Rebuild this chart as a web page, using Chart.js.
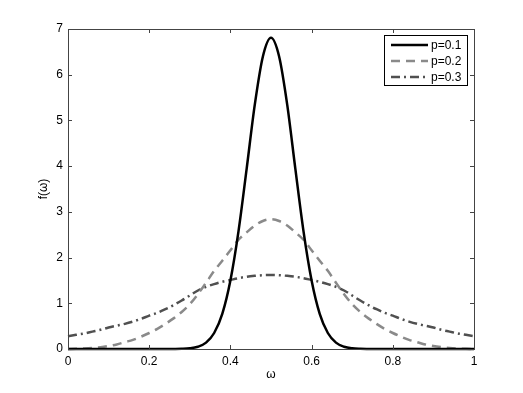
<!DOCTYPE html>
<html>
<head>
<meta charset="utf-8">
<script src="https://cdn.jsdelivr.net/npm/chart.js@4.4.1/dist/chart.umd.min.js"></script>
<style>
  html, body { margin: 0; padding: 0; background: #fff; }
  #wrap { width: 523px; height: 393px; }
</style>
</head>
<body>
<div id="wrap"><canvas id="myChart" width="523" height="393"></canvas></div>
<script>
const omega = [0, 0.02, 0.04, 0.06, 0.08, 0.1, 0.12, 0.14, 0.16, 0.18,
  0.2, 0.22, 0.24, 0.26, 0.28, 0.3, 0.32, 0.34, 0.36, 0.38,
  0.4, 0.42, 0.44, 0.46, 0.48, 0.5, 0.52, 0.54, 0.56, 0.58,
  0.6, 0.62, 0.64, 0.66, 0.68, 0.7, 0.72, 0.74, 0.76, 0.78,
  0.8, 0.82, 0.84, 0.86, 0.88, 0.9, 0.92, 0.94, 0.96, 0.98, 1];

const p01 = [0, 0, 0, 0, 0, 0, 0, 0, 0, 0,
  0, 0, 0, 0.001, 0.004, 0.015, 0.05, 0.14, 0.35, 0.77,
  1.5, 2.58, 3.94, 5.34, 6.4, 6.81, 6.4, 5.34, 3.94, 2.58,
  1.5, 0.77, 0.35, 0.14, 0.05, 0.015, 0.004, 0.001, 0, 0,
  0, 0, 0, 0, 0, 0, 0, 0, 0, 0, 0];

const p02 = [0, 0.003, 0.01, 0.022, 0.04, 0.065, 0.1, 0.15, 0.2, 0.27,
  0.35, 0.44, 0.55, 0.67, 0.81, 0.98, 1.2, 1.45, 1.71, 1.93,
  2.16, 2.39, 2.55, 2.7, 2.8, 2.84, 2.8, 2.7, 2.55, 2.39,
  2.16, 1.93, 1.71, 1.45, 1.2, 0.98, 0.81, 0.67, 0.55, 0.44,
  0.35, 0.27, 0.2, 0.15, 0.1, 0.065, 0.04, 0.022, 0.01, 0.003, 0];

const p03 = [0.28, 0.31, 0.34, 0.38, 0.42, 0.47, 0.51, 0.55, 0.6, 0.66,
  0.73, 0.79, 0.87, 0.96, 1.06, 1.17, 1.28, 1.36, 1.42, 1.47,
  1.51, 1.55, 1.58, 1.6, 1.615, 1.62, 1.615, 1.6, 1.58, 1.55,
  1.51, 1.47, 1.42, 1.36, 1.28, 1.17, 1.06, 0.96, 0.87, 0.79,
  0.73, 0.66, 0.6, 0.55, 0.51, 0.47, 0.42, 0.38, 0.34, 0.31, 0.28];

const seriesNames = ['p=0.1', 'p=0.2', 'p=0.3'];
const xTicks = [0, 0.2, 0.4, 0.6, 0.8, 1];
const yTicks = [0, 1, 2, 3, 4, 5, 6, 7];

const FONT = '"Liberation Sans", Arial, Helvetica, sans-serif';

function pts(ys) {
  return omega.map((x, i) => ({ x: x, y: ys[i] }));
}

const styles = [
  { color: '#000000', dash: [] },
  { color: '#8a8a8a', dash: [9, 6] },
  { color: '#505050', dash: [9, 4, 2, 4] }
];

// box round the axes, ticks pointing inward, legend in the top right corner
const matlabBox = {
  id: 'matlabBox',
  afterDraw(chart) {
    const ctx = chart.ctx;
    const a = chart.chartArea;
    const xs = chart.scales.x, ys = chart.scales.y;
    ctx.save();
    ctx.strokeStyle = '#444';
    ctx.lineWidth = 1;
    ctx.setLineDash([]);
    ctx.strokeRect(Math.round(a.left) + 0.5, Math.round(a.top) + 0.5,
      Math.round(a.right - a.left), Math.round(a.bottom - a.top));
    ctx.beginPath();
    xTicks.forEach(v => {
      const px = Math.round(xs.getPixelForValue(v)) + 0.5;
      ctx.moveTo(px, a.bottom); ctx.lineTo(px, a.bottom - 4);
      ctx.moveTo(px, a.top); ctx.lineTo(px, a.top + 4);
    });
    yTicks.forEach(v => {
      const py = Math.round(ys.getPixelForValue(v)) + 0.5;
      ctx.moveTo(a.left, py); ctx.lineTo(a.left + 4, py);
      ctx.moveTo(a.right, py); ctx.lineTo(a.right - 4, py);
    });
    ctx.stroke();

    // legend
    const bx = 384.5, by = 35.5, bw = 83, bh = 50;
    ctx.fillStyle = '#fff';
    ctx.fillRect(bx, by, bw, bh);
    ctx.strokeStyle = '#000';
    ctx.strokeRect(bx, by, bw, bh);
    ctx.font = '12px ' + FONT;
    ctx.textBaseline = 'middle';
    ctx.textAlign = 'left';
    const rows = [45, 61, 77];
    seriesNames.forEach((name, i) => {
      ctx.beginPath();
      ctx.strokeStyle = styles[i].color;
      ctx.lineWidth = 2.5;
      ctx.setLineDash(styles[i].dash);
      ctx.moveTo(391, rows[i]);
      ctx.lineTo(428, rows[i]);
      ctx.stroke();
      ctx.fillStyle = '#000';
      ctx.fillText(name, 431, rows[i] + 1);
    });
    ctx.restore();
  }
};

const ctx = document.getElementById('myChart').getContext('2d');
window.myChart = new Chart(ctx, {
  type: 'line',
  data: {
    datasets: [p01, p02, p03].map((ys, i) => ({
      label: seriesNames[i],
      data: pts(ys),
      borderColor: styles[i].color,
      borderDash: styles[i].dash,
      borderWidth: 2.5,
      pointRadius: 0,
      fill: false,
      cubicInterpolationMode: 'monotone',
      clip: false
    }))
  },
  options: {
    responsive: false,
    animation: false,
    events: [],
    layout: { padding: { left: 0, right: 49, top: 29, bottom: 0 } },
    plugins: {
      legend: { display: false },
      tooltip: { enabled: false }
    },
    scales: {
      x: {
        type: 'linear',
        min: 0,
        max: 1,
        afterFit(scale) { scale.height = 44; },
        afterBuildTicks(scale) { scale.ticks = xTicks.map(v => ({ value: v })); },
        grid: { display: false, drawTicks: false },
        border: { display: false },
        ticks: {
          color: '#000',
          padding: 5,
          maxRotation: 0,
          font: { family: FONT, size: 12 },
          callback: v => String(v)
        },
        title: {
          display: true,
          text: 'ω',
          color: '#000',
          font: { family: FONT, size: 12 },
          padding: { top: 0, bottom: 11 }
        }
      },
      y: {
        type: 'linear',
        min: 0,
        max: 7,
        afterFit(scale) { scale.width = 68; },
        afterBuildTicks(scale) { scale.ticks = yTicks.map(v => ({ value: v })); },
        grid: { display: false, drawTicks: false },
        border: { display: false },
        ticks: {
          color: '#000',
          padding: 5,
          font: { family: FONT, size: 12 }
        },
        title: {
          display: true,
          text: 'f(ω)',
          color: '#000',
          font: { family: FONT, size: 12 },
          padding: { top: 36, bottom: 0 }
        }
      }
    }
  },
  plugins: [matlabBox]
});
</script>
</body>
</html>
